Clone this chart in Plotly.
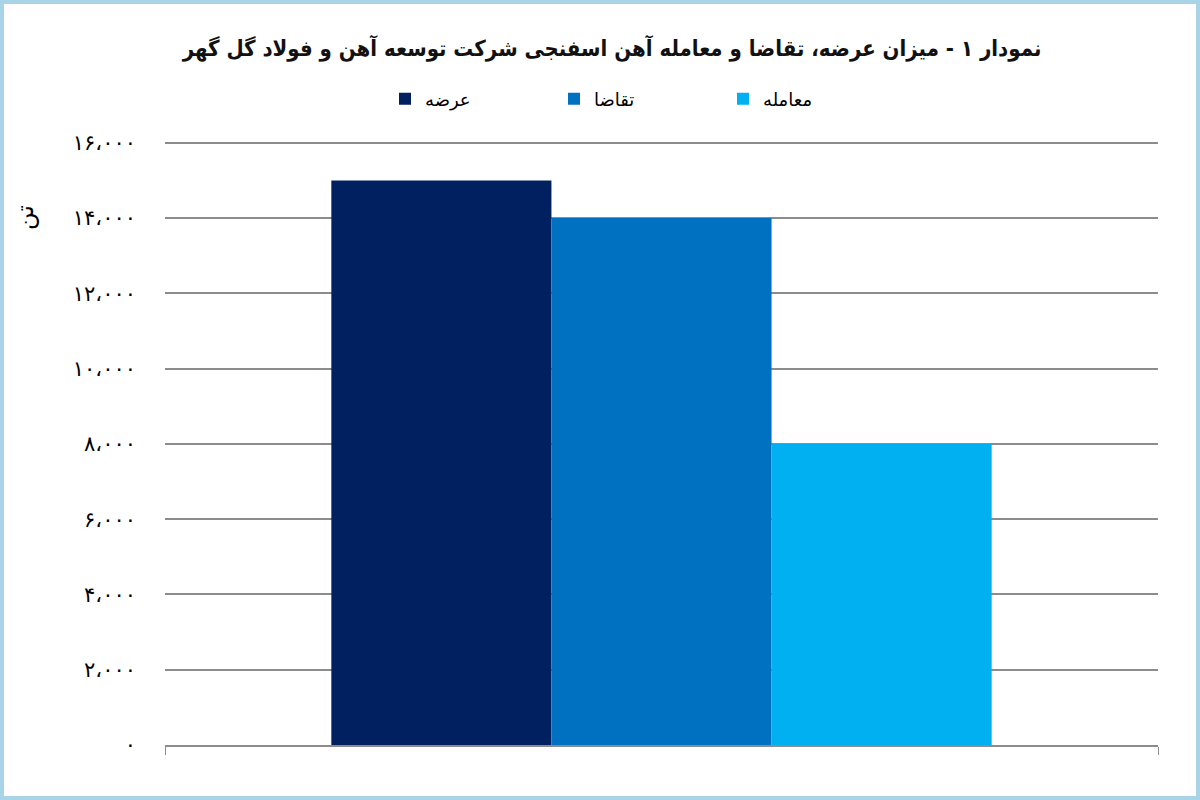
import plotly.graph_objects as go

# data (tonnes)
category = ["آهن اسفنجی"]
series_names = ["عرضه", "تقاضا", "معامله"]
series_values = [15000, 14000, 8000]
series_colors = ["#002060", "#0070C0", "#00B0F0"]

tick_vals = [0, 2000, 4000, 6000, 8000, 10000, 12000, 14000, 16000]
tick_text = ["۰", "۲،۰۰۰", "۴،۰۰۰", "۶،۰۰۰", "۸،۰۰۰", "۱۰،۰۰۰", "۱۲،۰۰۰", "۱۴،۰۰۰", "۱۶،۰۰۰"]

title_text = "نمودار ۱ - میزان عرضه، تقاضا و معامله آهن اسفنجی شرکت توسعه آهن و فولاد گل گهر"
unit_text = "تن"

W, H = 1200, 800
ml, mr, mt, mb = 165, 42, 139, 55
pw, ph = W - ml - mr, H - mt - mb

fig = go.Figure()
for name, val, col in zip(series_names, series_values, series_colors):
    fig.add_trace(go.Bar(x=category, y=[val], name=name, marker_color=col,
                         marker_line_width=0))

fig.update_layout(
    width=W, height=H,
    margin=dict(l=ml, r=mr, t=mt, b=mb),
    paper_bgcolor="white", plot_bgcolor="white",
    barmode="group", bargap=0.335, bargroupgap=0,
    font=dict(family="DejaVu Sans", color="black"),
    title=dict(text="<b>" + title_text + "</b>", x=0.51, xanchor="center",
               y=0.94, yanchor="middle",
               font=dict(size=22, color="#111",
                         family="DejaVu Sans Condensed, DejaVu Sans")),
    legend=dict(orientation="h", x=(385 - ml) / pw, xanchor="left",
                y=1 + 40 / ph, yanchor="middle", font=dict(size=18),
                entrywidth=124, entrywidthmode="pixels", itemsizing="constant"),
    xaxis=dict(showticklabels=False, showline=True, linecolor="#8c8c8c",
               linewidth=1.5, ticks="outside", tickson="boundaries",
               ticklen=8, tickcolor="#8c8c8c", showgrid=False),
    yaxis=dict(range=[0, 16100], tickvals=tick_vals, ticktext=tick_text,
               showgrid=True, gridcolor="#8c8c8c", gridwidth=1.5,
               zeroline=False, showline=False, ticks="",
               ticklabelstandoff=28, tickfont=dict(size=21)),
    showlegend=True,
)

fig.add_annotation(text=unit_text, xref="paper", yref="y", x=-140 / pw, y=14000,
                   xanchor="center", showarrow=False, textangle=-90,
                   font=dict(size=24))

# light blue frame around the whole picture
fig.add_shape(type="rect", xref="paper", yref="paper",
              x0=-(ml - 2) / pw, x1=1 + (mr - 2) / pw,
              y0=-(mb - 2) / ph, y1=1 + (mt - 2) / ph,
              line=dict(color="#a9d3e6", width=4), layer="below")

fig.write_html("out.html", config={"displayModeBar": False},
               post_script="document.body.style.margin='0';")
